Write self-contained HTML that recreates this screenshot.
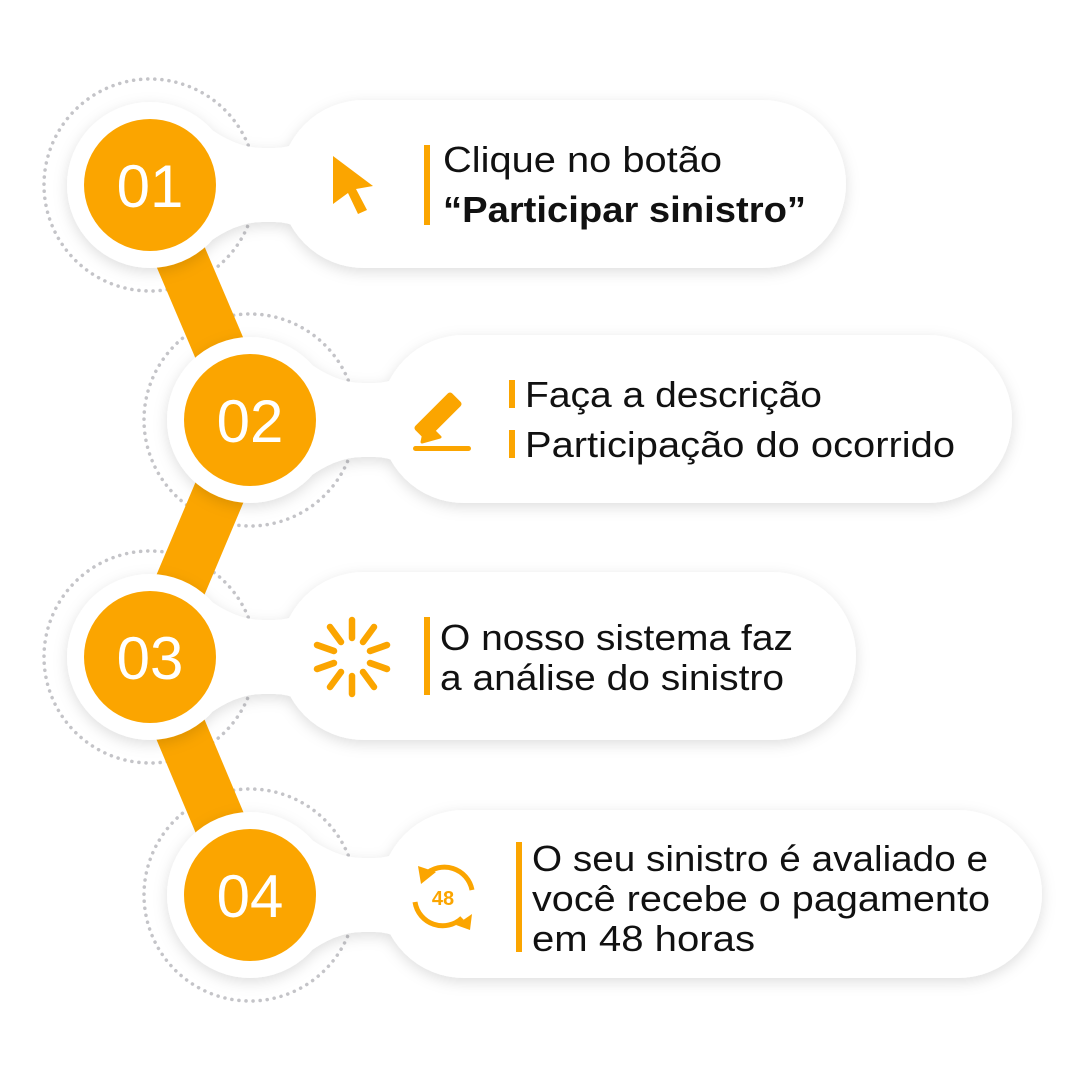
<!DOCTYPE html>
<html><head><meta charset="utf-8"><style>
html,body{margin:0;padding:0;background:#fff;}
svg{display:block}
text{font-family:"Liberation Sans",sans-serif;}
</style></head><body>
<svg width="1080" height="1080" viewBox="0 0 1080 1080" xmlns="http://www.w3.org/2000/svg">
<defs>
<filter id="sh" x="-20%" y="-30%" width="140%" height="160%">
<feDropShadow dx="0" dy="4" stdDeviation="7" flood-color="#000" flood-opacity="0.13"/>
</filter>
</defs>
<g fill="none" stroke="#c4c4c8" stroke-width="3.5" stroke-dasharray="0.1 7" stroke-linecap="round">
<circle cx="150" cy="185" r="106"/>
<circle cx="250" cy="420" r="106"/>
<circle cx="150" cy="657" r="106"/>
<circle cx="250" cy="895" r="106"/>
</g>
<g stroke="#fba500" stroke-width="52">
<line x1="150" y1="185" x2="250" y2="420"/>
<line x1="250" y1="420" x2="150" y2="657"/>
<line x1="150" y1="657" x2="250" y2="895"/>
</g>
<g fill="#fff" filter="url(#sh)">
<g>
<circle cx="150" cy="185" r="83"/>
<path d="M205 125 Q235 148 262 148 L275 148 Q300 148 320 125 L320 245 Q300 222 275 222 L262 222 Q235 222 205 245 Z"/>
<rect x="280" y="100" width="566" height="168" rx="84"/>
</g>
<g>
<circle cx="250" cy="420" r="83"/>
<path d="M305 360 Q335 383 362 383 L375 383 Q400 383 420 360 L420 480 Q400 457 375 457 L362 457 Q335 457 305 480 Z"/>
<rect x="380" y="335" width="632" height="168" rx="84"/>
</g>
<g>
<circle cx="150" cy="657" r="83"/>
<path d="M205 597 Q235 620 262 620 L275 620 Q300 620 320 597 L320 717 Q300 694 275 694 L262 694 Q235 694 205 717 Z"/>
<rect x="280" y="572" width="576" height="168" rx="84"/>
</g>
<g>
<circle cx="250" cy="895" r="83"/>
<path d="M305 835 Q335 858 362 858 L375 858 Q400 858 420 835 L420 955 Q400 932 375 932 L362 932 Q335 932 305 955 Z"/>
<rect x="380" y="810" width="662" height="168" rx="84"/>
</g>
</g>
<g fill="#fba500">
<circle cx="150" cy="185" r="66"/>
<circle cx="250" cy="420" r="66"/>
<circle cx="150" cy="657" r="66"/>
<circle cx="250" cy="895" r="66"/>
</g>
<g fill="#fff" font-size="60" text-anchor="middle">
<text x="150" y="207">01</text>
<text x="250" y="442">02</text>
<text x="150" y="679">03</text>
<text x="250" y="917">04</text>
</g>
<path d="M333 156 L373 186 L356 189 L367 210 L358 214 L348 193 L333 204 Z" fill="#fba500"/>
<g fill="#fba500">
<rect x="429" y="390" width="18" height="52" rx="3" transform="rotate(45 438 416)"/>
<path d="M426 423 L440 437 L422 442 Z" stroke="#fba500" stroke-width="3" stroke-linejoin="round"/>
<rect x="413" y="446" width="58" height="5" rx="2.5"/>
</g>
<g stroke="#fba500" stroke-width="6.5" stroke-linecap="round">
<line x1="352" y1="638" x2="352" y2="620"/>
<line x1="363" y1="642" x2="374" y2="627"/>
<line x1="370" y1="651" x2="387" y2="645"/>
<line x1="370" y1="663" x2="387" y2="669"/>
<line x1="363" y1="672" x2="374" y2="687"/>
<line x1="352" y1="676" x2="352" y2="694"/>
<line x1="341" y1="672" x2="330" y2="687"/>
<line x1="334" y1="663" x2="317" y2="669"/>
<line x1="334" y1="651" x2="317" y2="645"/>
<line x1="341" y1="642" x2="330" y2="627"/>
</g>
<g fill="none" stroke="#fba500" stroke-width="5">
<path d="M425 875 A28 28 0 0 1 472 890"/>
<path d="M462 918 A28 28 0 0 1 415 902"/>
</g>
<g fill="#fba500">
<path d="M418 866 L436 872 L421 884 Z"/>
<path d="M472 914 L456 925 L470 930 Z"/>
</g>
<text x="443" y="905" font-size="20" font-weight="bold" fill="#fba500" text-anchor="middle">48</text>
<g fill="#fba500">
<rect x="424" y="145" width="6" height="80"/>
<rect x="509" y="380" width="6" height="28"/>
<rect x="509" y="430" width="6" height="28"/>
<rect x="424" y="617" width="6" height="78"/>
<rect x="516" y="842" width="6" height="110"/>
</g>
<g fill="#111" font-size="36">
<text x="443" y="172" textLength="279" lengthAdjust="spacingAndGlyphs">Clique no botão</text>
<text x="443" y="222" font-weight="bold" textLength="363" lengthAdjust="spacingAndGlyphs">“Participar sinistro”</text>
<text x="525" y="407" textLength="297" lengthAdjust="spacingAndGlyphs">Faça a descrição</text>
<text x="525" y="457" textLength="430" lengthAdjust="spacingAndGlyphs">Participação do ocorrido</text>
<text x="440" y="650" textLength="353" lengthAdjust="spacingAndGlyphs">O nosso sistema faz</text>
<text x="440" y="690" textLength="344" lengthAdjust="spacingAndGlyphs">a análise do sinistro</text>
<text x="532" y="871" textLength="456" lengthAdjust="spacingAndGlyphs">O seu sinistro é avaliado e</text>
<text x="532" y="911" textLength="458" lengthAdjust="spacingAndGlyphs">você recebe o pagamento</text>
<text x="532" y="951" textLength="223" lengthAdjust="spacingAndGlyphs">em 48 horas</text>
</g>
</svg>
</body></html>
